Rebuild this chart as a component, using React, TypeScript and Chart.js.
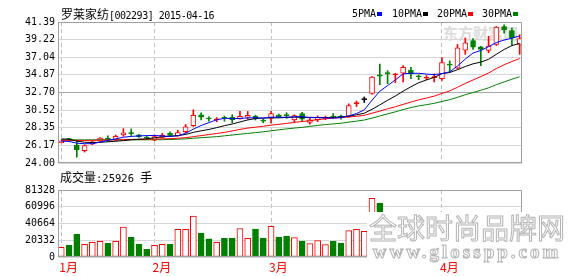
import React, { useEffect, useRef } from 'react';
import { Chart, registerables } from 'chart.js';

Chart.register(...registerables);

// ---------- data ----------
const stockName = '罗莱家纺';
const stockCode = '[002293]';
const quoteDate = '2015-04-16';
const currentVolume = 25926;

const dates = [
  '2015-01-15', '2015-01-16', '2015-01-19', '2015-01-20', '2015-01-21', '2015-01-22', '2015-01-23', '2015-01-26', '2015-01-27', '2015-01-28', '2015-01-29', '2015-01-30',
  '2015-02-02', '2015-02-03', '2015-02-04', '2015-02-05', '2015-02-06', '2015-02-09', '2015-02-10', '2015-02-11', '2015-02-12', '2015-02-13', '2015-02-16', '2015-02-17', '2015-02-25', '2015-02-26', '2015-02-27',
  '2015-03-02', '2015-03-03', '2015-03-04', '2015-03-05', '2015-03-06', '2015-03-09', '2015-03-10', '2015-03-11', '2015-03-12', '2015-03-13', '2015-03-16', '2015-03-17', '2015-03-18', '2015-03-19', '2015-03-20', '2015-03-23', '2015-03-24', '2015-03-25', '2015-03-26', '2015-03-27', '2015-03-30', '2015-03-31',
  '2015-04-01', '2015-04-02', '2015-04-03', '2015-04-07', '2015-04-08', '2015-04-09', '2015-04-10', '2015-04-13', '2015-04-14', '2015-04-15', '2015-04-16',
];

const opens = [26.52, 26.98, 26.21, 25.53, 26.33, 26.69, 26.98, 26.88, 27.47, 27.66, 27.46, 27.12, 26.81, 27.14, 27.66, 27.38, 27.86, 28.59, 29.95, 29.48, 29.33, 29.56, 29.64, 29.47, 29.64, 29.80, 29.20, 29.50, 29.90, 29.88, 29.30, 30.10, 28.99, 29.35, 29.47, 29.72, 29.70, 29.76, 31.33, 31.81, 32.57, 34.87, 35.15, 34.87, 35.07, 35.47, 34.70, 34.45, 34.52, 34.39, 36.15, 35.71, 37.92, 39.10, 38.33, 37.89, 38.61, 40.82, 40.34, 38.61];
const highs = [26.78, 27.05, 26.81, 26.25, 26.70, 27.15, 27.34, 27.45, 28.24, 28.20, 27.55, 27.35, 27.45, 27.66, 27.85, 28.05, 28.75, 30.56, 30.20, 29.70, 29.60, 29.80, 29.95, 30.36, 30.36, 29.90, 29.45, 30.36, 30.05, 30.20, 29.95, 30.25, 29.50, 29.80, 29.80, 30.10, 29.90, 31.30, 31.65, 32.14, 34.65, 36.20, 35.39, 35.07, 36.00, 35.80, 34.87, 34.79, 35.00, 37.00, 36.60, 38.61, 39.42, 39.34, 38.40, 39.62, 40.83, 41.03, 40.63, 39.82];
const lows = [26.48, 26.80, 24.72, 25.35, 26.28, 26.65, 26.66, 26.75, 27.30, 27.40, 27.15, 26.90, 26.75, 27.10, 27.30, 27.30, 27.70, 28.50, 29.30, 29.15, 29.10, 29.15, 28.95, 29.40, 29.40, 29.30, 28.95, 28.95, 29.60, 29.50, 29.00, 29.15, 28.80, 29.10, 29.35, 29.50, 29.40, 29.65, 30.97, 31.45, 32.50, 33.66, 33.78, 33.90, 33.99, 34.39, 34.27, 34.27, 33.99, 34.19, 35.20, 35.60, 37.40, 38.00, 36.00, 37.60, 38.50, 40.02, 38.53, 37.40];
const closes = [26.70, 26.90, 25.61, 26.14, 26.62, 27.06, 26.92, 27.28, 27.72, 27.62, 27.26, 27.08, 27.26, 27.42, 27.40, 27.74, 28.47, 29.88, 29.64, 29.43, 29.37, 29.52, 29.35, 29.76, 29.88, 29.45, 29.16, 30.10, 29.66, 29.84, 29.86, 29.40, 29.31, 29.64, 29.64, 29.66, 29.66, 31.09, 31.40, 31.81, 34.59, 34.71, 34.99, 34.93, 35.80, 34.99, 34.64, 34.51, 34.59, 36.40, 36.07, 38.21, 38.82, 38.29, 38.00, 38.41, 40.75, 40.42, 39.42, 39.34];

const volumes = [11800, 14200, 27600, 15500, 17900, 19100, 16700, 19100, 36200, 24000, 15500, 9400, 14200, 15500, 15500, 33700, 33700, 49600, 28900, 22000, 17700, 22800, 22800, 34600, 22600, 33900, 23000, 37200, 24200, 25400, 23600, 19100, 16300, 19900, 15000, 19100, 16700, 32100, 33700, 31300, 71100, 65000, 42000, 38000, 45000, 40000, 30000, 26000, 28000, 50000, 44000, 52000, 48000, 41000, 39000, 36000, 47000, 38000, 33000, 25926];

const ma5 = [26.70, 26.66, 26.45, 26.38, 26.38, 26.58, 26.80, 26.98, 27.18, 27.28, 27.34, 27.38, 27.40, 27.33, 27.28, 27.36, 27.66, 28.18, 28.62, 28.98, 29.32, 29.52, 29.47, 29.50, 29.56, 29.59, 29.53, 29.66, 29.64, 29.64, 29.70, 29.72, 29.60, 29.60, 29.57, 29.53, 29.60, 29.80, 30.10, 30.55, 31.75, 32.85, 33.55, 34.25, 35.00, 35.07, 35.06, 34.97, 34.90, 35.03, 35.24, 35.96, 36.82, 37.56, 37.88, 38.35, 38.85, 39.17, 39.40, 39.67];
const ma10 = [26.97, 26.93, 26.70, 26.56, 26.52, 26.55, 26.62, 26.68, 26.76, 26.86, 26.93, 26.98, 27.11, 27.23, 27.30, 27.37, 27.52, 27.78, 27.97, 28.14, 28.36, 28.60, 28.81, 29.06, 29.31, 29.48, 29.55, 29.57, 29.57, 29.61, 29.66, 29.63, 29.63, 29.62, 29.60, 29.63, 29.68, 29.78, 29.95, 30.14, 30.62, 31.17, 31.73, 32.26, 32.86, 33.40, 33.90, 34.24, 34.56, 35.02, 35.16, 35.51, 35.90, 36.23, 36.45, 36.79, 37.41, 38.00, 38.48, 38.77];
const ma20 = [26.80, 26.80, 26.78, 26.78, 26.80, 26.82, 26.83, 26.85, 26.87, 26.90, 26.92, 26.93, 26.95, 26.97, 27.00, 27.05, 27.12, 27.25, 27.38, 27.51, 27.64, 27.77, 27.96, 28.14, 28.31, 28.42, 28.53, 28.67, 28.77, 28.88, 29.01, 29.12, 29.22, 29.34, 29.46, 29.55, 29.61, 29.67, 29.76, 29.88, 30.14, 30.40, 30.68, 30.94, 31.23, 31.51, 31.79, 32.01, 32.25, 32.58, 32.89, 33.34, 33.81, 34.24, 34.66, 35.10, 35.65, 36.12, 36.52, 36.89];
const ma30 = [26.86, 26.86, 26.85, 26.85, 26.85, 26.86, 26.86, 26.86, 26.86, 26.86, 26.86, 26.86, 26.87, 26.88, 26.90, 26.93, 26.98, 27.05, 27.12, 27.18, 27.25, 27.35, 27.45, 27.55, 27.65, 27.75, 27.85, 27.97, 28.09, 28.21, 28.31, 28.39, 28.52, 28.63, 28.74, 28.82, 28.91, 29.04, 29.16, 29.30, 29.54, 29.80, 30.06, 30.31, 30.59, 30.83, 31.04, 31.19, 31.36, 31.59, 31.81, 32.10, 32.42, 32.70, 32.97, 33.27, 33.66, 34.00, 34.33, 34.64];

const priceTicks = [24.0, 26.17, 28.35, 30.52, 32.7, 34.87, 37.04, 39.22, 41.39];
const volumeTicks = [0, 20332, 40664, 60996, 81328];
const maNames = ['5PMA', '10PMA', '20PMA', '30PMA'];

// ---------- styling ----------
const MONO = '"DejaVu Sans Mono", monospace';
const CJK = '"Noto Sans CJK SC", sans-serif';
const RED = '#ff0000';
const GREEN = '#008000';
const MA_COLORS = ['#0000ff', '#000000', '#ff0000', '#008000'];
const GRID = '#d6d6d6';
const FRAME = '#a0a0a0';

// month starts derived from the dates
const monthStarts: number[] = [];
const monthLabelAt: Record<number, string> = {};
dates.forEach((d, i) => {
  const m = d.slice(5, 7);
  if (i === 0 || dates[i - 1].slice(5, 7) !== m) {
    monthStarts.push(i);
    monthLabelAt[i] = `${parseInt(m, 10)}月`;
  }
});

const candleColor = (i: number) =>
  closes[i] > opens[i] ? RED : closes[i] < opens[i] ? GREEN : '#000000';
const bodyFill = (i: number) =>
  closes[i] > opens[i] && closes[i] - opens[i] > 0.15 ? '#ffffff' : candleColor(i);
const volUp = (i: number) => closes[i] >= opens[i];

const X_MIN = -0.42;
const X_MAX = 59.3;

const framePlugin = {
  id: 'frame',
  afterDraw(chart: any) {
    const { ctx, chartArea: a } = chart;
    ctx.save();
    ctx.strokeStyle = FRAME;
    ctx.lineWidth = 1;
    ctx.strokeRect(
      Math.round(a.left) + 0.5,
      Math.round(a.top) + 0.5,
      Math.round(a.right) - Math.round(a.left) - 1,
      Math.round(a.bottom) - Math.round(a.top) - 1
    );
    ctx.restore();
  },
};

const xScale = (withLabels: boolean): any => ({
  type: 'linear',
  min: X_MIN,
  max: X_MAX,
  offset: false,
  bounds: 'data',
  afterBuildTicks: (s: any) => {
    s.ticks = monthStarts.map((v) => ({ value: v }));
  },
  grid: { color: '#c0c0c0', drawTicks: false, lineWidth: 1, offset: false },
  border: { display: false, dash: [4, 3] },
  ticks: withLabels
    ? {
        display: true,
        autoSkip: false,
        maxRotation: 0,
        align: 'start',
        labelOffset: -2,
        padding: 3,
        color: RED,
        font: { family: CJK, size: 12 },
        callback: (v: any) => monthLabelAt[v] ?? '',
      }
    : { display: false },
  ...(withLabels ? { afterFit: (s: any) => { s.height = 19; } } : {}),
});

export default function App() {
  const priceRef = useRef<HTMLCanvasElement>(null);
  const volRef = useRef<HTMLCanvasElement>(null);

  useEffect(() => {
    const idx = dates.map((_, i) => i);
    const maData = [ma5, ma10, ma20, ma30];

    const priceChart = new Chart(priceRef.current as HTMLCanvasElement, {
      type: 'bar',
      data: {
        datasets: [
          ...maData.map((arr, k) => ({
            type: 'line' as const,
            label: maNames[k],
            data: arr.map((v, i) => ({ x: i, y: v })),
            borderColor: MA_COLORS[k],
            borderWidth: 1,
            pointRadius: 0,
            tension: 0,
            order: k,
          })),
          {
            type: 'bar' as const,
            label: 'body',
            data: idx.map((i) => ({ x: i, y: [opens[i], closes[i]] })) as any,
            backgroundColor: idx.map(bodyFill),
            borderColor: idx.map(candleColor),
            borderWidth: 1,
            borderSkipped: false,
            barThickness: 5,
            minBarLength: 1,
            grouped: false,
            order: 10,
          },
          {
            type: 'bar' as const,
            label: 'wick',
            data: idx.map((i) => ({ x: i, y: [lows[i], highs[i]] })) as any,
            backgroundColor: idx.map(candleColor),
            borderWidth: 0,
            barThickness: 1,
            grouped: false,
            order: 11,
          },
        ] as any,
      },
      options: {
        animation: false,
        responsive: false,
        events: [],
        layout: { padding: { left: 0, right: 56, top: 22, bottom: 6 } },
        plugins: { legend: { display: false }, tooltip: { enabled: false } },
        scales: {
          x: xScale(false),
          y: {
            type: 'linear',
            min: 24,
            max: 41.39,
            afterBuildTicks: (s: any) => {
              s.ticks = priceTicks.map((v) => ({ value: v }));
            },
            afterFit: (s: any) => {
              s.width = 58;
            },
            ticks: {
              autoSkip: false,
              padding: 3,
              color: '#000',
              font: { family: MONO, size: 10 },
              callback: (v: any) => Number(v).toFixed(2),
            },
            grid: {
              drawTicks: false,
              color: (c: any) =>
                c.tick && Math.abs(c.tick.value - 32.7) < 0.01 ? '#a8a8a8' : GRID,
            },
            border: { display: false },
          },
        } as any,
      },
      plugins: [framePlugin],
    } as any);

    const volChart = new Chart(volRef.current as HTMLCanvasElement, {
      type: 'bar',
      data: {
        datasets: [
          {
            label: '成交量',
            data: volumes.map((v, i) => ({ x: i, y: v })) as any,
            backgroundColor: idx.map((i) => (volUp(i) ? '#ffffff' : GREEN)),
            borderColor: idx.map((i) => (volUp(i) ? RED : GREEN)),
            borderWidth: 1,
            borderSkipped: false,
            barThickness: 6,
          },
        ],
      },
      options: {
        animation: false,
        responsive: false,
        events: [],
        layout: { padding: { left: 0, right: 56, top: 10, bottom: 0 } },
        plugins: { legend: { display: false }, tooltip: { enabled: false } },
        scales: {
          x: xScale(true),
          y: {
            type: 'linear',
            min: 0,
            max: 81328,
            afterBuildTicks: (s: any) => {
              s.ticks = volumeTicks.map((v) => ({ value: v }));
            },
            afterFit: (s: any) => {
              s.width = 58;
            },
            ticks: {
              autoSkip: false,
              padding: 3,
              color: '#000',
              font: { family: MONO, size: 10 },
              callback: (v: any) => String(v),
            },
            grid: { drawTicks: false, color: GRID },
            border: { display: false },
          },
        } as any,
      },
      plugins: [framePlugin],
    } as any);

    return () => {
      priceChart.destroy();
      volChart.destroy();
    };
  }, []);

  const legendX = [352, 392, 437, 482];

  return (
    <div
      style={{
        position: 'absolute',
        left: 0,
        top: 0,
        width: 578,
        height: 276,
        background: '#ffffff',
        overflow: 'hidden',
        color: '#000',
      }}
    >
      <div
        style={{
          position: 'absolute',
          left: 443,
          top: 24,
          fontFamily: CJK,
          fontSize: 15,
          fontWeight: 700,
          lineHeight: '17px',
          color: '#dcdcdc',
          whiteSpace: 'nowrap',
        }}
      >
        东方财富网
      </div>

      <canvas
        ref={priceRef}
        width={578}
        height={172}
        style={{ position: 'absolute', left: 0, top: 0, width: 578, height: 172 }}
      />
      <canvas
        ref={volRef}
        width={578}
        height={96}
        style={{ position: 'absolute', left: 0, top: 180, width: 578, height: 96 }}
      />

      <div
        style={{
          position: 'absolute',
          left: 61,
          top: 7,
          height: 14,
          lineHeight: '14px',
          whiteSpace: 'nowrap',
        }}
      >
        <span style={{ fontFamily: CJK, fontSize: 12 }}>{stockName}</span>
        <span style={{ fontFamily: MONO, fontSize: 10, letterSpacing: '-0.5px' }}>
          {stockCode} {quoteDate}
        </span>
      </div>

      {maNames.map((name, k) => (
        <React.Fragment key={name}>
          <div
            style={{
              position: 'absolute',
              left: legendX[k],
              top: 7,
              lineHeight: '14px',
              fontFamily: MONO,
              fontSize: 10,
              whiteSpace: 'nowrap',
            }}
          >
            {name}
          </div>
          <div
            style={{
              position: 'absolute',
              left: legendX[k] + name.length * 6 + 1,
              top: 12,
              width: 5,
              height: 4,
              background: MA_COLORS[k],
            }}
          />
        </React.Fragment>
      ))}

      <div
        style={{
          position: 'absolute',
          left: 60,
          top: 170,
          lineHeight: '14px',
          whiteSpace: 'nowrap',
        }}
      >
        <span style={{ fontFamily: CJK, fontSize: 12 }}>成交量</span>
        <span style={{ fontFamily: MONO, fontSize: 10.5 }}>:{currentVolume} </span>
        <span style={{ fontFamily: CJK, fontSize: 12 }}>手</span>
      </div>

      <div
        style={{
          position: 'absolute',
          left: 367,
          top: 212,
          width: 200,
          height: 50,
          background: '#ffffff',
          textAlign: 'center',
          color: '#ffffff',
          WebkitTextStroke: '1px #b4b4b4',
          whiteSpace: 'nowrap',
        }}
      >
        <div style={{ fontFamily: CJK, fontSize: 28, lineHeight: '31px' }}>
          全球时尚品牌网
        </div>
        <div
          style={{
            fontFamily: '"Liberation Serif", serif',
            fontWeight: 700,
            fontSize: 19,
            lineHeight: '18px',
            letterSpacing: '3px',
          }}
        >
          www.glosspp.com
        </div>
      </div>
    </div>
  );
}
